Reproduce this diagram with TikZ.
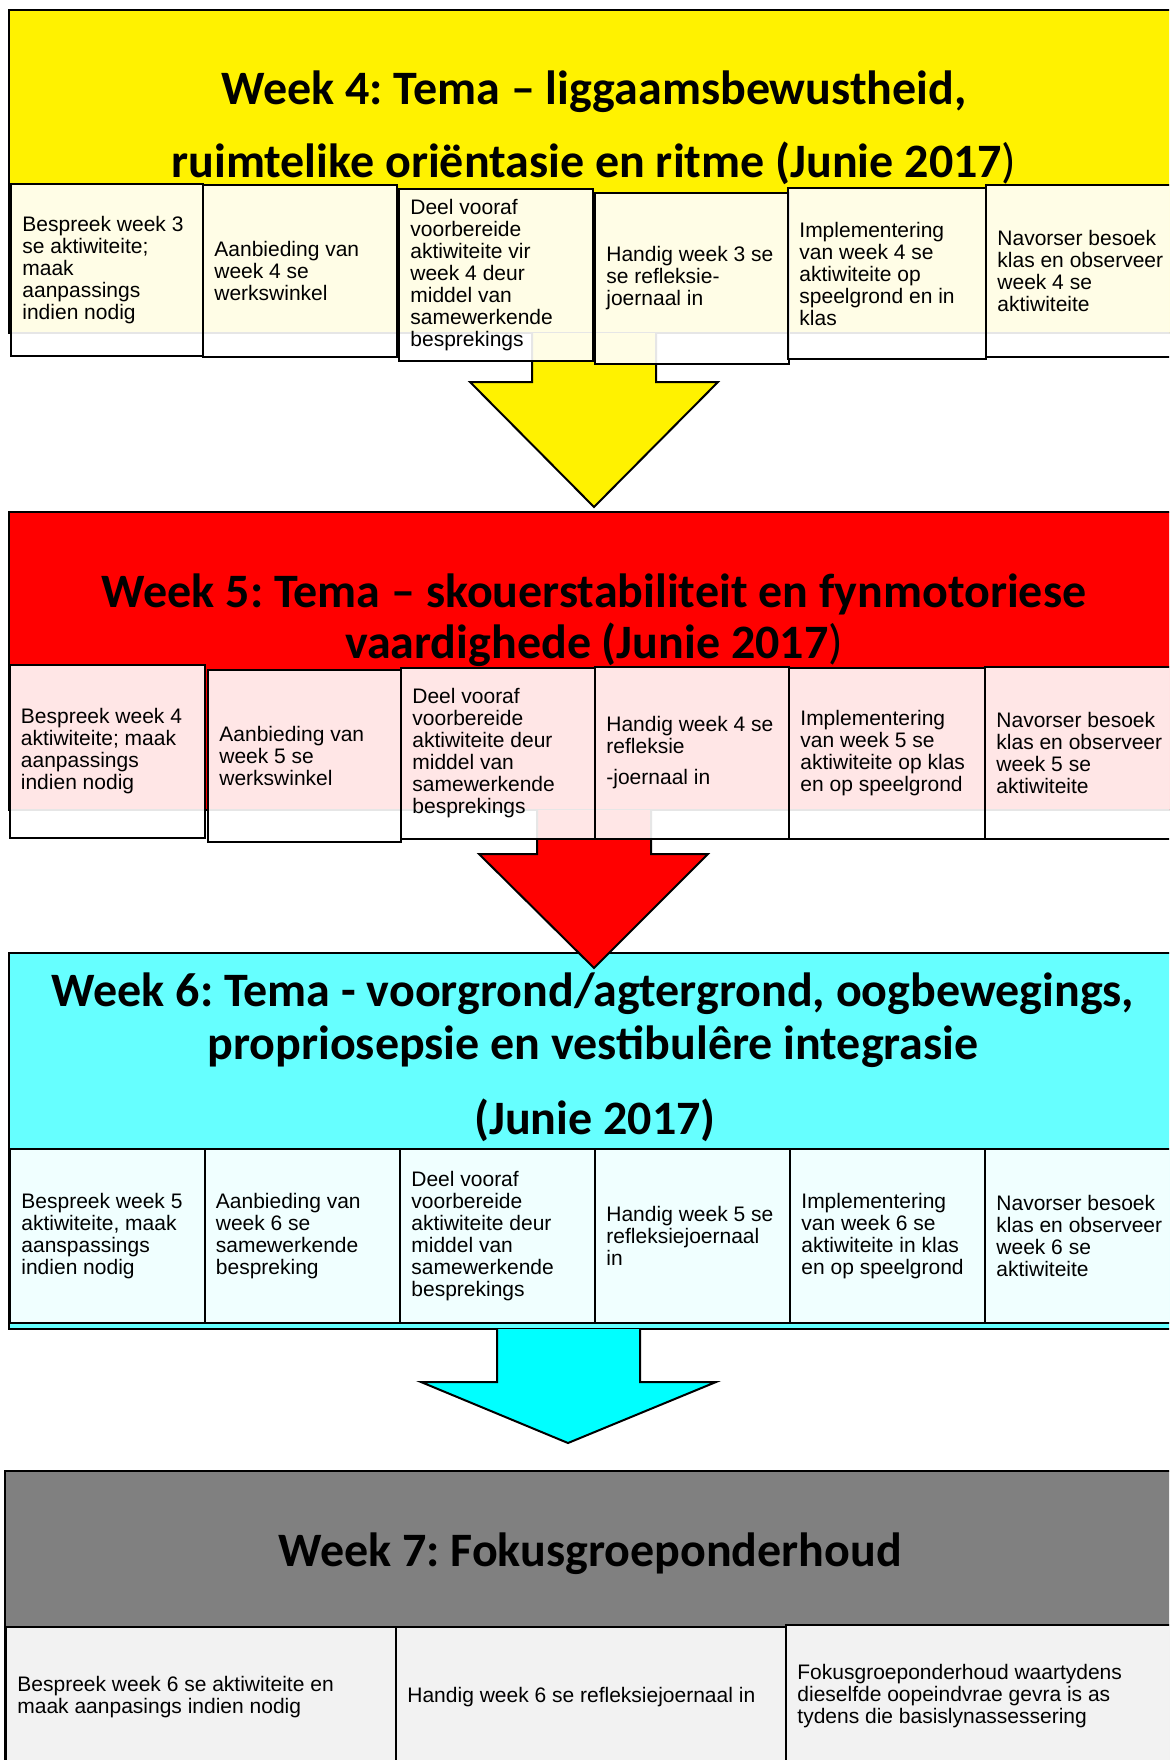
\documentclass[tikz,border=0pt]{standalone}
\usepackage{fontspec}
\setmainfont{Carlito}
\newfontfamily\arialf{Liberation Sans}
\definecolor{paleaqua}{HTML}{66FFFF}
\definecolor{aqua}{HTML}{00FFFF}
\definecolor{midgray}{HTML}{808080}
\frenchspacing
% block arrow pointing down: colour, shaft left/right, shaft top, shoulder, head left/right, tip x/y
\newcommand\drawdownarrow[9]{%
  \fill[#1] (#2,#4) -- (#2,#5) -- (#6,#5) -- (#8,#9) -- (#7,#5) -- (#3,#5) -- (#3,#4) -- cycle;
  \draw[arrowedge] (#2,#4) -- (#2,#5) -- (#6,#5) -- (#8,#9) -- (#7,#5) -- (#3,#5) -- (#3,#4);
}
% activity cell: name, top-left corner, width, height, text
\newcommand\actcell[5]{%
  \node[actbox, minimum width=#3, minimum height=#4] (#1) at (#2) {};
  \node[acttext] (#1-txt) at ([xshift=6pt]#1.west) {#5};
}
\begin{document}
\begin{tikzpicture}[x=0.5pt,y=-0.5pt,
  panel/.style={draw=black, line width=1pt},
  arrowedge/.style={draw=black, line width=1pt, line join=miter},
  actbox/.style={draw=black, line width=1pt, fill=white, fill opacity=0.9,
    draw opacity=1, inner sep=0pt, anchor=north west},
  acttext/.style={anchor=west, inner sep=0pt, align=left,
    font=\arialf\fontsize{10.5pt}{11pt}\selectfont},
  ttl/.style={anchor=base, inner sep=0pt, font=\bfseries\fontsize{24pt}{28pt}\selectfont}
]
\useasboundingbox (0,0) rectangle (1169,1760);
\clip (0,0) rectangle (1169,1760);

% section panels
\draw[panel, fill=yellow] (8.5,10) rectangle (1185,333);
\draw[panel, fill=red] (8.5,512) rectangle (1185,810);
\draw[panel, fill=paleaqua] (9,953) rectangle (1185,1329);
\draw[panel, fill=midgray] (5,1471) rectangle (1185,1780);

% arrows between the weeks
\drawdownarrow{yellow}{532}{656}{333}{382}{470}{718}{594}{507}
\drawdownarrow{red}{537}{651}{810}{854}{479}{708}{594}{968}
\drawdownarrow{aqua}{497}{640}{1329}{1382}{421}{716}{568}{1443}

% week 4 activities
\actcell{w4a}{10,183}{96pt}{86pt}{Bespreek week 3\\se aktiwiteite;\\maak\\aanpassings\\indien nodig}
\actcell{w4b}{202,184}{97pt}{86pt}{Aanbieding van\\week 4 se\\werkswinkel}
\actcell{w4c}{398,188}{97pt}{86pt}{Deel vooraf\\voorbereide\\aktiwiteite vir\\week 4 deur\\middel van\\samewerkende\\besprekings}
\actcell{w4d}{594,192}{97pt}{85.5pt}{Handig week 3 se\\se refleksie-\\joernaal in}
\actcell{w4e}{787,187}{99pt}{85.5pt}{Implementering\\van week 4 se\\aktiwiteite op\\speelgrond en in\\klas}
\actcell{w4f}{985,184}{100pt}{86pt}{Navorser besoek\\klas en observeer\\week 4 se\\aktiwiteite}

% week 5 activities
\actcell{w5a}{8.5,664}{97.75pt}{86.5pt}{Bespreek week 4\\aktiwiteite; maak\\aanpassings\\indien nodig}
\actcell{w5b}{207,669}{96.5pt}{86pt}{Aanbieding van\\week 5 se\\werkswinkel}
\actcell{w5c}{400,667}{97pt}{85.5pt}{Deel vooraf\\voorbereide\\aktiwiteite deur\\middel van\\samewerkende\\besprekings}
\actcell{w5d}{594,666}{97pt}{86pt}{Handig week 4 se\\refleksie\\[4.5pt]-joernaal in}
\actcell{w5e}{788,667}{98pt}{85.5pt}{Implementering\\van week 5 se\\aktiwiteite op klas\\en op speelgrond}
\actcell{w5f}{984,666}{100pt}{86pt}{Navorser besoek\\klas en observeer\\week 5 se\\aktiwiteite}

% week 6 activities
\actcell{w6a}{9,1148}{97.25pt}{87pt}{Bespreek week 5\\aktiwiteite, maak\\aanspassings\\indien nodig}
\actcell{w6b}{203.5,1148}{97.75pt}{87pt}{Aanbieding van\\week 6 se\\samewerkende\\bespreking}
\actcell{w6c}{399,1148}{97.5pt}{87pt}{Deel vooraf\\voorbereide\\aktiwiteite deur\\middel van\\samewerkende\\besprekings}
\actcell{w6d}{594,1148}{97.5pt}{87pt}{Handig week 5 se\\refleksiejoernaal\\in}
\actcell{w6e}{789,1148}{97.5pt}{87pt}{Implementering\\van week 6 se\\aktiwiteite in klas\\en op speelgrond}
\actcell{w6f}{984,1148}{100pt}{87pt}{Navorser besoek\\klas en observeer\\week 6 se\\aktiwiteite}

% week 7 activities
\actcell{w7a}{5,1626}{195pt}{70pt}{Bespreek week 6 se aktiwiteite en\\maak aanpasings indien nodig}
\actcell{w7b}{395,1626}{195pt}{70pt}{Handig week 6 se refleksiejoernaal in}
\actcell{w7c}{785,1624}{197pt}{71pt}{Fokusgroeponderhoud waartydens\\dieselfde oopeindvrae gevra is as\\tydens die basislynassessering}

% section titles
\node[ttl] (t4a) at (594,105) {Week 4: Tema – liggaamsbewustheid,};
\node[ttl] (t4b) at (594,178) {ruimtelike oriëntasie en ritme (Junie 2017\mdseries)};
\node[ttl] (t5a) at (594,607) {Week 5: Tema – skouerstabiliteit en fynmotoriese};
\node[ttl] (t5b) at (594,658) {vaardighede (Junie 2017\mdseries)};
\node[ttl] (t6a) at (593,1006) {Week 6: Tema - voorgrond/agtergrond, oogbewegings,};
\node[ttl] (t6b) at (593,1059) {propriosepsie en vestibulêre integrasie};
\node[ttl] (t6c) at (595,1134) {(Junie 2017)};
\node[ttl] (t7) at (590,1566) {Week 7: Fokusgroeponderhoud};
\end{tikzpicture}
\end{document}
